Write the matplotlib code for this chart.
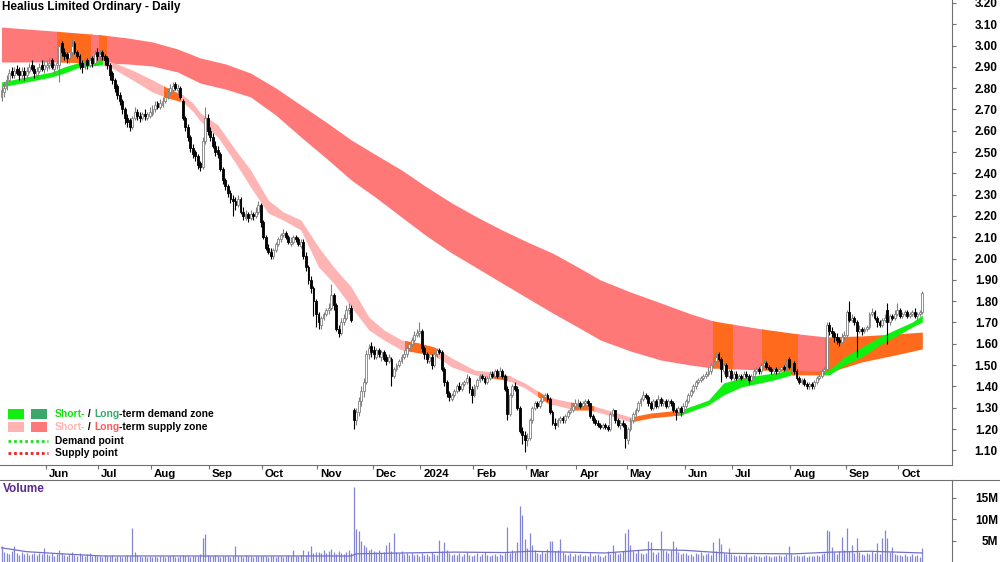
import numpy as np
import pandas as pd
import matplotlib
matplotlib.use("Agg")
import matplotlib.pyplot as plt
from matplotlib.patches import Rectangle
from matplotlib.lines import Line2D

plt.rcParams['font.family'] = ['Liberation Sans', 'DejaVu Sans']

title = "Healius Limited Ordinary - Daily"
start_day = "2023-05-08"
holidays = ["2023-06-12", "2023-12-25", "2023-12-26", "2024-01-01", "2024-01-26",
            "2024-03-29", "2024-04-01", "2024-04-25", "2024-06-10"]

# daily candles, month by month (May-23 .. Oct-24)
close = [2.79, 2.80, 2.84, 2.87, 2.86, 2.88, 2.87, 2.86, 2.88, 2.86, 2.88, 2.90, 2.89, 2.87, 2.88, 2.90, 2.89, 2.91,
         2.91, 2.92, 2.90, 2.91, 2.92, 3.00, 2.97, 2.95, 2.94, 2.97, 3.00, 2.97, 2.95, 2.91, 2.90, 2.92, 2.91, 2.93, 2.92, 2.96, 2.95,
         2.96, 2.95, 2.93, 2.91, 2.86, 2.84, 2.80, 2.77, 2.74, 2.70, 2.66, 2.64, 2.62, 2.66, 2.69, 2.67, 2.66, 2.68, 2.67, 2.68, 2.69,
         2.70, 2.72, 2.71, 2.73, 2.74, 2.76, 2.78, 2.80, 2.81, 2.80, 2.80, 2.76, 2.66, 2.62, 2.57, 2.52, 2.49, 2.48, 2.44, 2.43, 2.55, 2.66, 2.60,
         2.57, 2.53, 2.50, 2.49, 2.42, 2.37, 2.34, 2.31, 2.28, 2.27, 2.25, 2.28, 2.22, 2.20, 2.21, 2.19, 2.21, 2.20, 2.22, 2.25, 2.17,
         2.10, 2.05, 2.03, 2.01, 2.04, 2.07, 2.09, 2.11, 2.12, 2.10, 2.08, 2.08, 2.10, 2.09, 2.07, 2.08, 2.01, 1.96, 1.90, 1.86, 1.80, 1.74,
         1.70, 1.72, 1.74, 1.76, 1.77, 1.83, 1.78, 1.67, 1.65, 1.70, 1.72, 1.76, 1.77, 1.71, 1.24, 1.28, 1.33, 1.38, 1.42, 1.55, 1.58, 1.56,
         1.55, 1.57, 1.55, 1.56, 1.53, 1.52, 1.54, 1.45, 1.48, 1.50, 1.52, 1.54, 1.55, 1.58, 1.60, 1.62, 1.64, 1.65, 1.66,
         1.58, 1.55, 1.53, 1.54, 1.50, 1.55, 1.57, 1.56, 1.48, 1.42, 1.37, 1.35, 1.36, 1.38, 1.40, 1.39, 1.41, 1.42, 1.44, 1.39, 1.36,
         1.40, 1.43, 1.45, 1.44, 1.42, 1.44, 1.46, 1.45, 1.47, 1.45, 1.47, 1.45, 1.39, 1.27, 1.36, 1.40, 1.39, 1.30, 1.19, 1.17, 1.15,
         1.16, 1.24, 1.30, 1.32, 1.31, 1.33, 1.35, 1.36, 1.34, 1.28, 1.23, 1.22, 1.24, 1.25, 1.24, 1.26, 1.28, 1.29, 1.31, 1.32,
         1.32, 1.31, 1.32, 1.33, 1.32, 1.26, 1.24, 1.23, 1.22, 1.21, 1.22, 1.21, 1.20, 1.27, 1.29, 1.24, 1.22, 1.23, 1.22, 1.16,
         1.20, 1.24, 1.27, 1.29, 1.32, 1.34, 1.36, 1.35, 1.32, 1.30, 1.33, 1.31, 1.34, 1.32, 1.33, 1.31, 1.33, 1.32, 1.29, 1.28, 1.30, 1.28, 1.31,
         1.33, 1.36, 1.38, 1.40, 1.42, 1.43, 1.44, 1.45, 1.46, 1.47, 1.50, 1.52, 1.54, 1.53, 1.48, 1.50, 1.45, 1.47, 1.44,
         1.46, 1.44, 1.45, 1.44, 1.46, 1.45, 1.43, 1.45, 1.47, 1.48, 1.47, 1.50, 1.51, 1.49, 1.48, 1.47, 1.48, 1.47, 1.48, 1.49, 1.48, 1.52, 1.49,
         1.50, 1.47, 1.44, 1.42, 1.43, 1.41, 1.40, 1.41, 1.40, 1.42, 1.44, 1.45, 1.47, 1.48, 1.69, 1.66, 1.65, 1.63, 1.62, 1.61, 1.63, 1.64,
         1.75, 1.71, 1.72, 1.70, 1.66, 1.67, 1.66, 1.67, 1.68, 1.74, 1.75, 1.72, 1.70, 1.69, 1.71, 1.72, 1.70, 1.73, 1.72, 1.74, 1.76,
         1.73, 1.74, 1.75, 1.73, 1.74, 1.75, 1.73, 1.74, 1.75, 1.84]

open_ = [2.76, 2.78, 2.80, 2.84, 2.88, 2.86, 2.89, 2.88, 2.86, 2.88, 2.86, 2.88, 2.91, 2.89, 2.86, 2.88, 2.91, 2.89,
         2.90, 2.91, 2.93, 2.89, 2.91, 2.91, 3.01, 2.97, 2.96, 2.94, 2.97, 3.01, 2.97, 2.95, 2.92, 2.90, 2.93, 2.91, 2.94, 2.92, 2.97,
         2.95, 2.97, 2.95, 2.94, 2.91, 2.87, 2.84, 2.81, 2.77, 2.74, 2.70, 2.66, 2.65, 2.62, 2.66, 2.69, 2.67, 2.66, 2.68, 2.66, 2.67,
         2.68, 2.70, 2.73, 2.71, 2.72, 2.74, 2.76, 2.78, 2.79, 2.82, 2.79, 2.80, 2.74, 2.66, 2.62, 2.57, 2.52, 2.50, 2.48, 2.45, 2.43, 2.55, 2.66,
         2.60, 2.57, 2.53, 2.51, 2.49, 2.42, 2.37, 2.34, 2.31, 2.28, 2.27, 2.25, 2.28, 2.22, 2.19, 2.21, 2.19, 2.21, 2.20, 2.22, 2.25,
         2.17, 2.10, 2.05, 2.03, 2.01, 2.04, 2.07, 2.09, 2.11, 2.12, 2.10, 2.07, 2.08, 2.10, 2.09, 2.06, 2.08, 2.01, 1.96, 1.90, 1.86, 1.80,
         1.74, 1.69, 1.72, 1.74, 1.76, 1.77, 1.83, 1.78, 1.67, 1.65, 1.70, 1.72, 1.76, 1.77, 1.29, 1.24, 1.28, 1.33, 1.38, 1.42, 1.55, 1.59,
         1.57, 1.54, 1.57, 1.54, 1.56, 1.54, 1.52, 1.53, 1.45, 1.48, 1.50, 1.52, 1.54, 1.55, 1.58, 1.60, 1.62, 1.64, 1.65,
         1.66, 1.58, 1.55, 1.52, 1.54, 1.50, 1.55, 1.57, 1.56, 1.48, 1.42, 1.37, 1.34, 1.36, 1.38, 1.40, 1.39, 1.41, 1.42, 1.44, 1.39,
         1.36, 1.40, 1.43, 1.45, 1.44, 1.42, 1.44, 1.46, 1.45, 1.47, 1.45, 1.47, 1.45, 1.39, 1.27, 1.36, 1.40, 1.39, 1.30, 1.19, 1.17,
         1.15, 1.16, 1.24, 1.30, 1.32, 1.31, 1.33, 1.35, 1.36, 1.34, 1.28, 1.23, 1.22, 1.24, 1.25, 1.24, 1.26, 1.28, 1.29, 1.31,
         1.32, 1.32, 1.31, 1.32, 1.33, 1.32, 1.26, 1.24, 1.23, 1.22, 1.21, 1.22, 1.21, 1.20, 1.27, 1.29, 1.24, 1.22, 1.23, 1.22,
         1.15, 1.20, 1.24, 1.27, 1.29, 1.32, 1.34, 1.36, 1.35, 1.32, 1.30, 1.33, 1.31, 1.34, 1.32, 1.33, 1.31, 1.33, 1.32, 1.29, 1.28, 1.30, 1.28,
         1.31, 1.33, 1.36, 1.38, 1.40, 1.42, 1.43, 1.44, 1.45, 1.46, 1.47, 1.50, 1.52, 1.55, 1.53, 1.47, 1.50, 1.45, 1.47,
         1.44, 1.46, 1.44, 1.45, 1.44, 1.46, 1.45, 1.43, 1.45, 1.47, 1.48, 1.47, 1.50, 1.51, 1.49, 1.48, 1.47, 1.48, 1.47, 1.48, 1.49, 1.48, 1.53,
         1.47, 1.51, 1.47, 1.44, 1.42, 1.43, 1.41, 1.40, 1.41, 1.40, 1.42, 1.44, 1.45, 1.47, 1.48, 1.69, 1.66, 1.65, 1.63, 1.62, 1.61, 1.63,
         1.64, 1.75, 1.71, 1.72, 1.70, 1.66, 1.67, 1.66, 1.67, 1.68, 1.74, 1.75, 1.72, 1.70, 1.69, 1.71, 1.76, 1.70, 1.73, 1.72, 1.74,
         1.76, 1.73, 1.74, 1.75, 1.73, 1.74, 1.75, 1.73, 1.74, 1.75]

high = [2.81, 2.83, 2.86, 2.89, 2.90, 2.90, 2.91, 2.90, 2.90, 2.90, 2.90, 2.92, 2.93, 2.91, 2.90, 2.92, 2.93, 2.93,
        2.93, 2.94, 2.94, 2.92, 2.93, 3.03, 3.02, 2.99, 2.97, 2.98, 3.03, 3.02, 2.98, 2.96, 2.93, 2.94, 2.94, 2.95, 2.95, 2.98, 2.99,
        2.98, 2.98, 2.96, 2.95, 2.92, 2.88, 2.85, 2.82, 2.78, 2.75, 2.71, 2.68, 2.66, 2.67, 2.71, 2.70, 2.69, 2.69, 2.70, 2.69, 2.71,
        2.72, 2.74, 2.74, 2.75, 2.76, 2.78, 2.80, 2.82, 2.83, 2.83, 2.82, 2.81, 2.75, 2.67, 2.63, 2.58, 2.54, 2.51, 2.49, 2.46, 2.57, 2.71, 2.68,
        2.62, 2.59, 2.55, 2.53, 2.50, 2.43, 2.38, 2.35, 2.32, 2.30, 2.29, 2.30, 2.29, 2.24, 2.23, 2.22, 2.23, 2.22, 2.24, 2.27, 2.26,
        2.18, 2.11, 2.07, 2.05, 2.05, 2.08, 2.10, 2.12, 2.14, 2.13, 2.11, 2.10, 2.11, 2.11, 2.10, 2.09, 2.09, 2.03, 1.97, 1.92, 1.87, 1.81,
        1.75, 1.73, 1.75, 1.77, 1.79, 1.88, 1.84, 1.79, 1.69, 1.72, 1.74, 1.78, 1.79, 1.78, 1.30, 1.30, 1.35, 1.40, 1.44, 1.57, 1.60, 1.61,
        1.59, 1.58, 1.58, 1.57, 1.57, 1.55, 1.55, 1.54, 1.49, 1.51, 1.53, 1.55, 1.57, 1.59, 1.61, 1.63, 1.66, 1.67, 1.70,
        1.67, 1.59, 1.56, 1.55, 1.55, 1.56, 1.58, 1.58, 1.57, 1.49, 1.43, 1.38, 1.37, 1.39, 1.41, 1.42, 1.42, 1.43, 1.46, 1.45, 1.40,
        1.41, 1.44, 1.46, 1.46, 1.45, 1.45, 1.47, 1.47, 1.48, 1.48, 1.49, 1.48, 1.46, 1.40, 1.37, 1.41, 1.42, 1.40, 1.31, 1.21, 1.19,
        1.18, 1.25, 1.31, 1.33, 1.33, 1.34, 1.36, 1.37, 1.37, 1.35, 1.29, 1.25, 1.25, 1.26, 1.26, 1.27, 1.29, 1.30, 1.32, 1.34,
        1.34, 1.33, 1.33, 1.34, 1.34, 1.32, 1.27, 1.25, 1.24, 1.23, 1.23, 1.23, 1.22, 1.28, 1.30, 1.29, 1.25, 1.24, 1.24, 1.23,
        1.21, 1.25, 1.28, 1.30, 1.33, 1.35, 1.38, 1.37, 1.36, 1.33, 1.34, 1.34, 1.36, 1.35, 1.34, 1.34, 1.34, 1.34, 1.33, 1.30, 1.31, 1.31, 1.32,
        1.34, 1.37, 1.39, 1.41, 1.43, 1.44, 1.45, 1.46, 1.47, 1.49, 1.51, 1.54, 1.56, 1.56, 1.54, 1.51, 1.51, 1.48, 1.48,
        1.47, 1.47, 1.46, 1.46, 1.47, 1.47, 1.46, 1.46, 1.48, 1.49, 1.49, 1.51, 1.53, 1.52, 1.50, 1.49, 1.49, 1.49, 1.49, 1.50, 1.50, 1.53, 1.54,
        1.52, 1.52, 1.48, 1.45, 1.44, 1.44, 1.42, 1.42, 1.42, 1.43, 1.45, 1.46, 1.48, 1.49, 1.70, 1.70, 1.68, 1.66, 1.65, 1.63, 1.65, 1.66,
        1.76, 1.80, 1.74, 1.73, 1.71, 1.69, 1.68, 1.68, 1.69, 1.75, 1.77, 1.76, 1.73, 1.71, 1.72, 1.74, 1.79, 1.74, 1.74, 1.76, 1.79,
        1.77, 1.75, 1.76, 1.76, 1.75, 1.76, 1.77, 1.75, 1.76, 1.85]

low = [2.74, 2.76, 2.79, 2.83, 2.85, 2.85, 2.86, 2.84, 2.85, 2.84, 2.85, 2.87, 2.88, 2.85, 2.85, 2.87, 2.88, 2.87,
       2.88, 2.89, 2.89, 2.87, 2.89, 2.83, 2.95, 2.93, 2.92, 2.92, 2.95, 2.96, 2.94, 2.89, 2.87, 2.89, 2.89, 2.90, 2.90, 2.91, 2.93,
       2.93, 2.93, 2.91, 2.89, 2.84, 2.82, 2.78, 2.75, 2.72, 2.68, 2.63, 2.62, 2.60, 2.61, 2.65, 2.65, 2.64, 2.65, 2.65, 2.65, 2.66,
       2.67, 2.69, 2.70, 2.70, 2.71, 2.73, 2.75, 2.77, 2.78, 2.79, 2.77, 2.75, 2.65, 2.60, 2.55, 2.50, 2.47, 2.46, 2.42, 2.41, 2.42, 2.54, 2.58,
       2.55, 2.52, 2.48, 2.47, 2.41, 2.35, 2.32, 2.29, 2.26, 2.20, 2.23, 2.24, 2.21, 2.18, 2.18, 2.17, 2.18, 2.18, 2.19, 2.21, 2.15,
       2.09, 2.04, 2.02, 2.00, 2.00, 2.03, 2.06, 2.08, 2.10, 2.09, 2.07, 2.06, 2.07, 2.08, 2.06, 2.05, 2.00, 1.94, 1.88, 1.84, 1.73, 1.68,
       1.67, 1.67, 1.71, 1.73, 1.74, 1.76, 1.76, 1.66, 1.63, 1.64, 1.69, 1.71, 1.74, 1.70, 1.20, 1.22, 1.26, 1.31, 1.35, 1.41, 1.53, 1.54,
       1.53, 1.53, 1.54, 1.52, 1.52, 1.50, 1.51, 1.40, 1.44, 1.47, 1.49, 1.51, 1.53, 1.54, 1.57, 1.59, 1.61, 1.63, 1.63,
       1.56, 1.53, 1.51, 1.51, 1.48, 1.49, 1.54, 1.55, 1.47, 1.40, 1.35, 1.33, 1.33, 1.35, 1.37, 1.38, 1.38, 1.40, 1.41, 1.37, 1.32,
       1.35, 1.39, 1.42, 1.43, 1.41, 1.41, 1.43, 1.44, 1.44, 1.44, 1.45, 1.44, 1.38, 1.24, 1.26, 1.35, 1.38, 1.29, 1.18, 1.13, 1.09,
       1.12, 1.15, 1.23, 1.29, 1.30, 1.30, 1.32, 1.34, 1.33, 1.27, 1.22, 1.20, 1.21, 1.23, 1.23, 1.23, 1.25, 1.27, 1.28, 1.30,
       1.30, 1.30, 1.30, 1.31, 1.31, 1.25, 1.23, 1.22, 1.21, 1.20, 1.20, 1.20, 1.19, 1.19, 1.26, 1.23, 1.21, 1.20, 1.21, 1.11,
       1.13, 1.19, 1.23, 1.26, 1.28, 1.31, 1.33, 1.34, 1.31, 1.29, 1.29, 1.30, 1.30, 1.31, 1.31, 1.30, 1.30, 1.31, 1.28, 1.24, 1.27, 1.26, 1.27,
       1.30, 1.32, 1.35, 1.37, 1.39, 1.41, 1.42, 1.43, 1.44, 1.45, 1.46, 1.49, 1.51, 1.52, 1.42, 1.46, 1.44, 1.44, 1.43,
       1.43, 1.43, 1.43, 1.43, 1.43, 1.44, 1.41, 1.42, 1.44, 1.46, 1.46, 1.46, 1.49, 1.48, 1.47, 1.46, 1.46, 1.46, 1.46, 1.47, 1.47, 1.47, 1.48,
       1.46, 1.46, 1.43, 1.41, 1.41, 1.40, 1.39, 1.39, 1.39, 1.39, 1.41, 1.43, 1.44, 1.46, 1.47, 1.64, 1.63, 1.61, 1.60, 1.59, 1.60, 1.62,
       1.63, 1.70, 1.70, 1.69, 1.54, 1.65, 1.64, 1.65, 1.66, 1.67, 1.73, 1.71, 1.68, 1.68, 1.68, 1.70, 1.60, 1.69, 1.71, 1.71, 1.73,
       1.72, 1.72, 1.73, 1.72, 1.72, 1.73, 1.72, 1.71, 1.73, 1.74]

# volume in millions
volume = [3.8, 2.5, 2.2, 2.0, 2.6, 3.8, 2.1, 1.8, 2.4, 1.9, 2.2, 1.7, 2.0, 2.3, 1.8, 2.1, 1.9, 3.3,
          2.0, 1.7, 2.2, 1.6, 1.9, 2.8, 2.1, 1.8, 1.6, 2.0, 2.4, 1.7, 1.5, 2.1, 1.8, 1.6, 1.9, 2.2, 1.5, 1.7, 1.4,
          1.6, 1.3, 1.8, 1.5, 1.4, 1.7, 1.3, 1.6, 1.5, 1.2, 1.4, 1.7, 1.5, 8.0, 2.4, 1.8, 1.4, 1.3, 1.5, 1.2, 1.4,
          1.3, 1.5, 1.2, 1.4, 1.6, 1.3, 1.5, 1.4, 1.7, 1.3, 1.2, 1.6, 1.8, 1.4, 1.5, 1.3, 1.6, 1.4, 1.5, 1.9, 5.7, 6.6, 1.8,
          1.6, 1.4, 1.7, 1.5, 1.3, 1.6, 1.4, 1.5, 1.3, 1.4, 3.8, 1.6, 1.5, 1.3, 1.7, 1.4, 1.5, 1.3, 1.6, 1.4, 1.5,
          1.4, 1.6, 1.3, 1.5, 1.4, 1.2, 1.6, 1.5, 1.3, 1.4, 1.7, 1.5, 2.9, 1.4, 1.6, 1.8, 2.9, 1.7, 2.6, 3.8, 2.2, 2.5,
          2.4, 2.1, 2.9, 2.3, 2.6, 3.1, 2.4, 2.0, 2.7, 2.2, 1.9, 2.5, 2.8, 2.3, 17.6, 7.8, 7.3, 5.0, 4.0, 3.6, 2.8, 3.2,
          2.6, 2.4, 2.9, 2.2, 2.5, 4.0, 4.8, 2.7, 6.8, 2.4, 2.1, 2.6, 1.9, 2.2, 1.8, 2.3, 1.7, 2.0, 1.6,
          2.1, 1.8, 2.0, 1.6, 2.4, 1.9, 1.7, 5.2, 2.6, 4.8, 2.9, 2.2, 1.8, 2.0, 1.7, 2.3, 1.6, 1.9, 2.5, 1.8, 1.5,
          1.7, 2.1, 1.6, 1.9, 2.4, 1.8, 1.5, 1.7, 2.0, 1.6, 1.9, 1.8, 2.2, 8.3, 2.1, 2.8, 2.4, 4.8, 13.1, 11.0, 5.5,
          3.4, 6.9, 4.0, 2.8, 2.3, 1.9, 2.6, 2.2, 3.1, 5.0, 5.0, 2.7, 3.0, 5.5, 2.4, 2.0, 1.8, 2.2, 1.6, 1.9,
          1.7, 2.0, 1.5, 1.8, 1.6, 2.1, 1.4, 1.7, 1.9, 1.5, 1.3, 1.8, 2.6, 2.0, 4.0, 2.4, 1.9, 2.2, 2.6, 6.9,
          7.8, 4.0, 2.6, 2.1, 2.8, 2.3, 1.9, 2.2, 5.0, 4.8, 2.5, 2.0, 2.4, 7.3, 3.0, 2.6, 2.2, 2.8, 5.0, 3.6, 2.4, 2.0, 2.3,
          2.1, 1.8, 2.0, 1.6, 2.2, 1.9, 2.4, 1.8, 2.0, 2.3, 1.7, 4.8, 2.6, 5.7, 4.3, 2.2, 2.0, 3.4, 1.9,
          1.7, 1.5, 1.8, 1.4, 1.6, 1.9, 1.3, 1.5, 1.7, 1.4, 1.6, 1.2, 1.5, 1.8, 1.4, 1.3, 1.6, 1.5, 1.7, 1.4, 1.6, 1.9, 3.8,
          2.0, 1.6, 1.8, 1.5, 1.4, 1.7, 1.3, 1.6, 1.5, 1.4, 1.8, 1.6, 1.9, 2.2, 7.5, 7.3, 3.6, 2.4, 2.0, 2.6, 5.9, 2.8,
          8.0, 2.6, 4.0, 2.2, 5.7, 2.4, 2.0, 1.8, 2.3, 1.9, 2.6, 2.1, 4.5, 2.0, 5.7, 7.5, 5.7, 2.4, 3.6, 2.0, 1.7,
          1.8, 1.5, 2.0, 1.6, 1.4, 1.9, 1.5, 1.7, 1.3, 3.4]

# volume average line (bar index, millions)
volma_idx = [0, 10, 24, 40, 139, 141, 160, 180, 200, 210, 240, 258, 272, 290, 315, 330, 345, 366]
volma = [3.4, 2.5, 2.0, 1.5, 1.5, 2.0, 2.2, 2.4, 2.3, 2.6, 2.2, 3.0, 2.8, 2.1, 2.0, 2.4, 2.6, 2.2]

# long-term zone edges (bar index, price)
lt_idx = [0, 20, 40, 50, 60, 70, 79, 89, 99, 109, 119, 129, 139, 149, 159, 169, 179, 189, 199, 209, 219,
          229, 238, 250, 262, 274, 283, 302, 317, 328, 342, 355, 366]
lt_top = [3.087, 3.069, 3.050, 3.036, 3.017, 2.984, 2.942, 2.914, 2.871, 2.801, 2.721, 2.641, 2.557, 2.486,
          2.416, 2.336, 2.261, 2.195, 2.134, 2.078, 2.026, 1.961, 1.900, 1.843, 1.792, 1.740, 1.707, 1.670,
          1.646, 1.632, 1.637, 1.646, 1.655]
lt_bot = [2.923, 2.923, 2.918, 2.914, 2.904, 2.876, 2.824, 2.796, 2.759, 2.674, 2.571, 2.472, 2.369, 2.285,
          2.195, 2.106, 2.026, 1.956, 1.885, 1.815, 1.745, 1.679, 1.618, 1.566, 1.524, 1.500, 1.486, 1.477,
          1.468, 1.463, 1.515, 1.547, 1.576]

# short-term zone edges
st_idx = [0, 10, 20, 25, 30, 35, 40, 44, 52, 60, 66, 72, 76, 79, 86, 93, 99, 106, 112, 119, 126, 132, 139, 146,
          152, 159, 166, 172, 179, 188, 195, 202, 208, 217, 228, 234, 241, 250, 258, 270, 281, 287, 294, 307,
          314, 322, 329, 335, 342, 349, 355, 362, 366]
st_top = [2.829, 2.853, 2.876, 2.900, 2.918, 2.928, 2.932, 2.923, 2.885, 2.839, 2.801, 2.768, 2.731, 2.684,
          2.627, 2.510, 2.416, 2.275, 2.219, 2.181, 2.054, 1.961, 1.867, 1.726, 1.665, 1.618, 1.604, 1.585,
          1.533, 1.477, 1.468, 1.449, 1.416, 1.350, 1.322, 1.313, 1.289, 1.256, 1.275, 1.289, 1.336, 1.416,
          1.440, 1.463, 1.477, 1.472, 1.477, 1.538, 1.585, 1.632, 1.665, 1.702, 1.735]
st_bot = [2.806, 2.829, 2.853, 2.871, 2.895, 2.904, 2.909, 2.895, 2.839, 2.782, 2.754, 2.735, 2.693, 2.646,
          2.571, 2.449, 2.336, 2.214, 2.181, 2.134, 1.961, 1.885, 1.773, 1.665, 1.618, 1.571, 1.557, 1.547,
          1.491, 1.454, 1.440, 1.425, 1.393, 1.322, 1.289, 1.289, 1.266, 1.233, 1.252, 1.266, 1.313, 1.360,
          1.397, 1.430, 1.454, 1.454, 1.454, 1.500, 1.538, 1.594, 1.632, 1.679, 1.702]

# colour of each stretch of the zones (from bar, to bar, kind)
lt_zones = [(0, 22.5, "red"), (22.5, 36, "orange"), (36, 39.5, "red"), (39.5, 42.5, "orange"),
            (42.5, 283.5, "red"), (283.5, 291.5, "orange"), (291.5, 303, "red"), (303, 317, "orange"),
            (317, 328, "red"), (328, 367, "orange")]
st_zones = [(0, 41, "green"), (41, 65, "pink"), (65, 72, "orange"), (72, 161, "pink"), (161, 174, "orange"),
            (174, 196, "pink"), (196, 202, "orange"), (202, 214, "pink"), (214, 219, "orange"),
            (219, 227, "pink"), (227, 236, "orange"), (236, 252, "pink"), (252, 270, "orange"),
            (270, 315, "green"), (315, 327, "orange"), (327, 367, "green")]

colors = {"red": "#ff7878", "pink": "#ffb4b4", "orange": "#ff6a1c", "green": "#10f010"}

assert len(close) == len(open_) == len(high) == len(low) == len(volume)
n = len(close)
days = pd.bdate_range(start_day, periods=n + 30)
days = days[~days.isin(pd.to_datetime(holidays))][:n]
x = np.arange(n)
o = np.array(open_); c = np.array(close); h = np.array(high); l = np.array(low)

W, H = 1000, 562
fig = plt.figure(figsize=(10, 5.62), dpi=100)
ax = fig.add_axes([0, 97 / H, 0.952, 465 / H])
axv = fig.add_axes([0, 0, 0.952, 82 / H])

def draw_zone(idx, top, bot, zones):
    for a, b, kind in zones:
        coll = ax.fill_between(idx, bot, top, color=colors[kind], lw=0, zorder=1)
        coll.set_clip_path(Rectangle((a - 0.6, 0), b - a + 0.6, 10, transform=ax.transData))

draw_zone(lt_idx, lt_top, lt_bot, lt_zones)
draw_zone(st_idx, st_top, st_bot, st_zones)

# candles
up = c >= o
ax.vlines(x[up], l[up], h[up], color="#808080", lw=0.8, zorder=3)
ax.vlines(x[~up], l[~up], h[~up], color="black", lw=0.8, zorder=3)
ax.bar(x[up], c[up] - o[up], bottom=o[up], width=0.75, color="white", edgecolor="#808080", lw=0.6, zorder=4)
ax.bar(x[~up], o[~up] - c[~up], bottom=c[~up], width=0.75, color="black", edgecolor="black", lw=0.6, zorder=4)

ax.set_xlim(-0.6, 377.8)
ax.set_ylim(1.031, 3.214)
for s in ["top", "left"]:
    ax.spines[s].set_visible(False)
ax.spines["bottom"].set_color("#707070")
ax.spines["right"].set_color("#707070")

yt = np.round(np.arange(1.1, 3.21, 0.1), 2)
ax.yaxis.tick_right()
ax.set_yticks(yt, [f"{v:.2f}" for v in yt])
ax.tick_params(axis="y", direction="out", length=3, pad=30, labelsize=8.5, colors="#707070", labelcolor="black")
plt.setp(ax.get_yticklabels(), ha="right", fontweight="bold")

# month ticks with labels to the right of each tick
months = days.to_period("M")
starts = [i for i in range(1, n) if months[i] != months[i - 1]]
mlabels = ["2024" if days[i].month == 1 else days[i].strftime("%b") for i in starts]
ax.set_xticks(np.array(starts) - 0.5, [""] * len(starts))
ax.tick_params(axis="x", direction="out", length=3, colors="#707070")
for p, lab in zip(starts, mlabels):
    ax.annotate(lab, (p - 0.5, 0), xycoords=("data", "axes fraction"), xytext=(3, -9),
                textcoords="offset pixels", ha="left", va="center", fontsize=8.2, fontweight="bold")

ax.text(2 / 952, 1 - 7 / 465, title, transform=ax.transAxes, ha="left", va="center",
        fontsize=8.5, fontweight="bold")

# volume panel
axv.vlines(x, 0, volume, color="#8585d5", lw=0.9)
axv.plot(volma_idx, volma, color="#7070c8", lw=0.9)
axv.set_xlim(ax.get_xlim())
axv.set_ylim(0.1, 19.17)
for s in ["left", "bottom", "top"]:
    axv.spines[s].set_visible(False)
axv.spines["right"].set_color("#707070")
axv.set_xticks([])
axv.yaxis.tick_right()
axv.set_yticks([5, 10, 15], ["5M", "10M", "15M"])
axv.tick_params(axis="y", direction="out", length=3, pad=30, labelsize=8.5, colors="#707070", labelcolor="black")
plt.setp(axv.get_yticklabels(), ha="right", fontweight="bold")
axv.text(3 / 952, 1 - 9 / 82, "Volume", transform=axv.transAxes, ha="left", va="center",
         fontsize=8.5, fontweight="bold", color="#5a2a8c")
fig.add_artist(Line2D([0, 1], [82 / H, 82 / H], transform=fig.transFigure, color="#707070", lw=0.8))

# legend block
def fx(px):
    return px / W

def fy(py):
    return 1 - py / H

renderer = fig.canvas.get_renderer()

def text_run(x0, y0, parts):
    for txt, col in parts:
        t = fig.text(fx(x0), fy(y0), txt, color=col, fontsize=7.4, fontweight="bold", ha="left", va="center")
        x0 += t.get_window_extent(renderer=renderer).width

sw = [(8, 409, "#10f010"), (31, 409, "#3aa86a"), (8, 422, "#ffb4b4"), (31, 422, "#ff7878")]
for sx, sy, col in sw:
    fig.add_artist(Rectangle((fx(sx), fy(sy + 10)), 16 / W, 10 / H, transform=fig.transFigure,
                             color=col, lw=0))
text_run(55, 414, [("Short-", "#10e010"), (" / ", "black"), ("Long", "#3aa86a"),
                   ("-term demand zone", "black")])
text_run(55, 427, [("Short-", "#ffb4b4"), (" / ", "black"), ("Long", "#ff5a5a"),
                   ("-term supply zone", "black")])
fig.add_artist(Line2D([fx(8), fx(48)], [fy(441), fy(441)], transform=fig.transFigure,
                      color="#22dd22", lw=2, ls=(0, (1, 1))))
fig.add_artist(Line2D([fx(8), fx(48)], [fy(453), fy(453)], transform=fig.transFigure,
                      color="#ee2222", lw=2, ls=(0, (1, 1))))
text_run(55, 441, [("Demand point", "black")])
text_run(55, 453, [("Supply point", "black")])

fig.savefig("out.png", dpi=100)
